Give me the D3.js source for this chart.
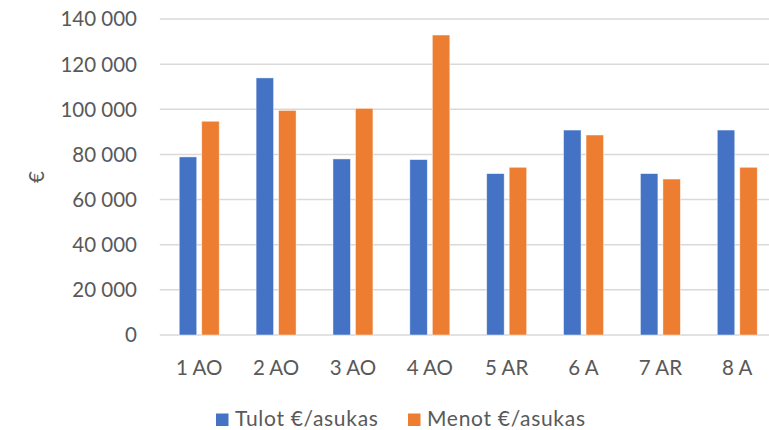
<!DOCTYPE html>
<html>
<head>
<meta charset="utf-8">
<script src="https://cdn.jsdelivr.net/npm/d3@7"></script>
<style>
  body { margin: 0; background: #fff; }
  text { font-family: Lato, "Open Sans", sans-serif; fill: #595959; }
</style>
</head>
<body>
<div id="chart"></div>
<script>
// Data
var categories = ["1 AO", "2 AO", "3 AO", "4 AO", "5 AR", "6 A", "7 AR", "8 A"],
	tulot = [78900, 113900, 78000, 77700, 71500, 90800, 71500, 90800],
	menot = [94700, 99500, 100400, 132900, 74300, 88600, 69100, 74300],
	seriesNames = ["Tulot €/asukas", "Menot €/asukas"],
	seriesKeys = ["tulot", "menot"],
	colors = ["#4472C4", "#ED7D31"],
	yTicks = [0, 20000, 40000, 60000, 80000, 100000, 120000, 140000];

var width = 769,
	height = 430,
	plotLeft = 160.8,
	plotRight = 775.7,
	plotTop = 19,
	plotBottom = 335;

var svg = d3.select("#chart")
	.append("svg")
	.attr("width", width)
	.attr("height", height);

var rows = categories.map(function(c, i) {
	return { cat: c, tulot: tulot[i], menot: menot[i] };
});

var x = d3.scaleBand()
	.domain(categories)
	.range([plotLeft, plotRight])
	.padding(0);

var x1 = d3.scaleBand()
	.domain(seriesKeys)
	.range([x.bandwidth() * 0.24, x.bandwidth() * 0.76])
	.paddingInner(0.223);

var y = d3.scaleLinear()
	.domain([0, 140000])
	.range([plotBottom, plotTop]);

var color = d3.scaleOrdinal()
	.domain(seriesKeys)
	.range(colors);

// gridlines
svg.append("g")
	.selectAll("line")
	.data(yTicks)
	.enter()
	.append("line")
	.attr("x1", plotLeft - 1)
	.attr("x2", width)
	.attr("y1", function(d) { return y(d); })
	.attr("y2", function(d) { return y(d); })
	.attr("stroke", "#d9d9d9")
	.attr("stroke-width", 1.5);

// y labels
var fmt = function(d) { return d3.format(",")(d).replace(/,/g, " "); };
svg.append("g")
	.selectAll("text")
	.data(yTicks)
	.enter()
	.append("text")
	.attr("x", 137)
	.attr("y", function(d) { return y(d); })
	.attr("dy", "0.36em")
	.attr("text-anchor", "end")
	.style("font-size", "20.5px")
	.text(fmt);

// y axis title
svg.append("text")
	.attr("transform", "translate(37,177) rotate(-90)")
	.attr("text-anchor", "middle")
	.attr("dy", "0.36em")
	.style("font-size", "20.5px")
	.text("€");

// bars
svg.append("g")
	.selectAll("g")
	.data(rows)
	.enter()
	.append("g")
	.attr("transform", function(d) { return "translate(" + x(d.cat) + ",0)"; })
	.selectAll("rect")
	.data(function(d) { return seriesKeys.map(function(k) { return { key: k, value: d[k] }; }); })
	.enter()
	.append("rect")
	.attr("x", function(d) { return x1(d.key); })
	.attr("width", x1.bandwidth())
	.attr("y", function(d) { return y(d.value); })
	.attr("height", function(d) { return y(0) - y(d.value); })
	.attr("fill", function(d) { return color(d.key); })
	.attr("stroke", "#fff")
	.attr("stroke-opacity", 0.6)
	.attr("stroke-width", 0.75);

// category labels
svg.append("g")
	.selectAll("text")
	.data(categories)
	.enter()
	.append("text")
	.attr("x", function(d) { return x(d) + x.bandwidth() / 2; })
	.attr("y", 375)
	.attr("text-anchor", "middle")
	.style("font-size", "20.5px")
	.text(function(d) { return d; });

// legend
var legendX = [216, 408];
var legend = svg.append("g")
	.selectAll("g")
	.data(seriesKeys)
	.enter()
	.append("g")
	.attr("transform", function(d, i) { return "translate(" + legendX[i] + ",0)"; });
legend.append("rect")
	.attr("y", 413.5)
	.attr("width", 12.5)
	.attr("height", 12.5)
	.attr("fill", function(d) { return color(d); });
legend.append("text")
	.attr("x", 19)
	.attr("y", 426)
	.style("font-size", "21px")
	.style("letter-spacing", "0.7px")
	.text(function(d, i) { return seriesNames[i]; });
</script>
</body>
</html>
